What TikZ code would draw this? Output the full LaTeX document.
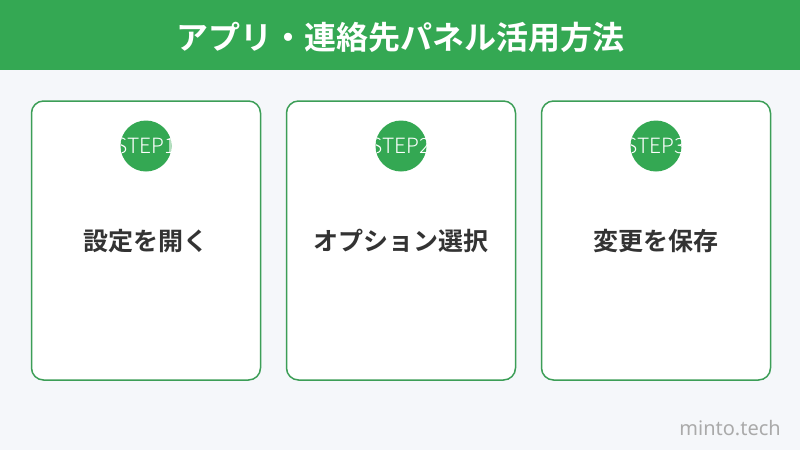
\documentclass[tikz,border=0pt]{standalone}
\usepackage{fontspec}
\newfontfamily\jp{Noto Sans CJK JP}[BoldFont={Noto Sans CJK JP Bold}]
\IfFontExistsTF{Noto Sans CJK JP Light}
  {\newfontfamily\stepfont{Noto Sans CJK JP Light}}
  {\IfFontExistsTF{Lato Light}{\newfontfamily\stepfont{Lato Light}}{\newfontfamily\stepfont{Noto Sans}}}
\newfontfamily\wm{Noto Sans}
\definecolor{hdr}{HTML}{34A853}
\definecolor{bg}{HTML}{F5F7FA}
\definecolor{cardline}{HTML}{3C9E57}
\definecolor{txt}{HTML}{333333}
\definecolor{wmc}{HTML}{AAAAAA}
\begin{document}
\begin{tikzpicture}[x=1pt,y=-1pt,
  card/.style={draw=cardline,line width=1.5pt,fill=white,rounded corners=12pt,minimum width=229pt,minimum height=279pt,inner sep=0pt},
  badge/.style={circle,fill=hdr,minimum size=51pt,inner sep=0pt},
  steplabel/.style={text=white,font=\stepfont\fontsize{21}{21}\selectfont,inner sep=0pt},
  label/.style={text=txt,font=\jp\bfseries\fontsize{25}{25}\selectfont,inner sep=0pt}]
\fill[bg] (0,0) rectangle (800,450);
\useasboundingbox (0,0) rectangle (800,450);
\fill[hdr] (0,0) rectangle (800,70);
\node[text=white,font=\jp\bfseries\fontsize{32}{32}\selectfont] (title) at (400,37) {アプリ・連絡先パネル活用方法};
\foreach \i/\cx/\t in {1/146/設定を開く,2/401/オプション選択,3/656/変更を保存}{
  \node[card] (card\i) at (\cx,240.5) {};
  \node[badge] (badge\i) at (\cx,146) {};
  \begin{scope}
    \clip (badge\i.center) circle (25.5pt);
    \node[steplabel] (step\i) at (\cx,146) {STEP\i};
  \end{scope}
  \node[label] (lab\i) at (\cx,241) {\t};
}
\node[text=wmc,font=\wm\fontsize{20}{20}\selectfont,anchor=east,inner sep=0pt] (wm) at (781,428) {minto.tech};
\end{tikzpicture}
\end{document}
